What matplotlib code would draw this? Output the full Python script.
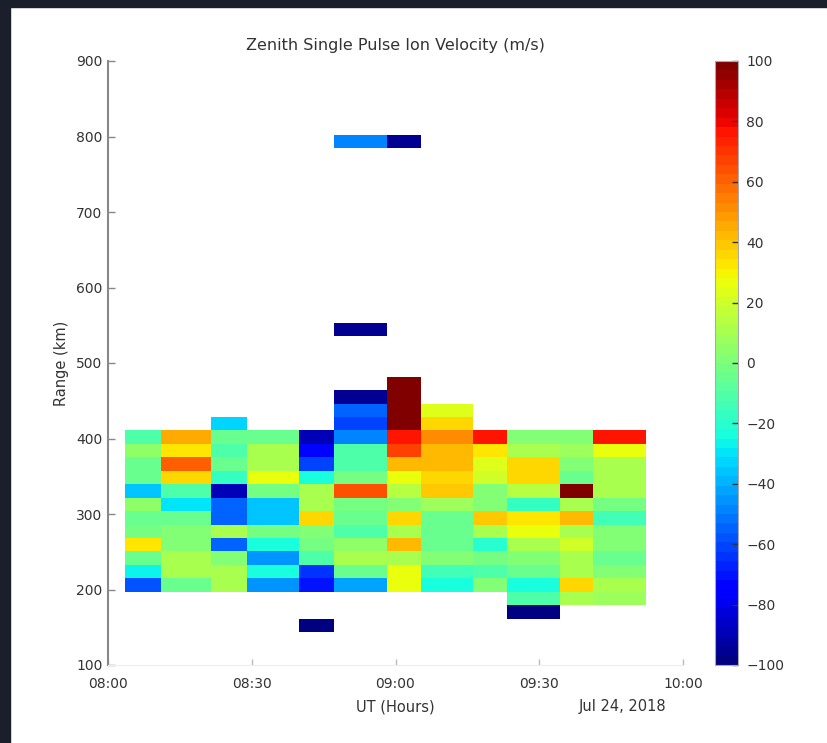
import numpy as np
import matplotlib
matplotlib.use("Agg")
import matplotlib.pyplot as plt
from matplotlib.patches import Rectangle

# time bin edges, minutes after 08:00 UT
time_edges_min = [3.5, 11.1, 21.5, 29.0, 39.9, 47.2, 58.2, 65.3, 76.2, 83.3, 94.3, 101.2, 112.3]
# range gate edges (km), 37 gates
gate_size = 17.8
first_range = 143.6
n_gates = 37

# first gate index of each time column, then velocities from that gate upward (m/s)
first_gate = [3, 3, 3, 3, 3, 3, 3, 3, 3, 1, 2, 2]
col01 = [-58, -27, -6, 32, -2, -4, 6, -35, -6, -6, 5, -12]
col02 = [-4, 10, 10, 0, 0, -6, -30, -10, 37, 60, 32, 45]
col03 = [12, 12, 2, -55, 12, -55, -55, -88, -17, -4, -12, -4, -32]
col04 = [-45, -25, -45, -22, -2, -37, -37, -2, 28, 10, 10, -6]
col05 = [-70, -65, -12, -2, 0, 37, 12, 10, -25, -60, -75, -90]
col06 = [-42, -6, 10, 5, -12, -4, -2, 65, -2, -10, -10, -47, -60, -55, -95]
col07 = [25, 25, 10, 42, 12, 35, 0, 15, 25, 42, 68, 75, 100, 100, 100, 100]
col08 = [-25, -15, 0, -6, -4, -4, 8, 40, 35, 42, 42, 50, 35, 22]
col09 = [0, -10, -2, -20, 12, 40, 2, 0, 20, 24, 32, 75]
col10 = [-98, -12, -23, -4, 0, 12, 27, 32, -17, 15, 35, 37, 10, 0]
col11 = [10, 37, 10, 10, 20, 10, 42, 10, 100, -4, 0, 8, 0]
col12 = [8, 10, 0, -4, 0, 0, -15, -2, 12, 12, 12, 25, 75]
columns = [col01, col02, col03, col04, col05, col06, col07, col08, col09, col10, col11, col12]

# isolated returns
lone_col = [4, 5, 5, 6]
lone_gate = [0, 22, 36, 36]
lone_vel = [-98, -95, -50, -95]

yticks = list(range(100, 901, 100))
xticks = [8.0, 8.5, 9.0, 9.5, 10.0]
xticklabels = ["08:00", "08:30", "09:00", "09:30", "10:00"]
cticks = list(range(-100, 101, 20))

range_edges = first_range + gate_size * np.arange(n_gates + 1)
time_edges = 8 + np.array(time_edges_min) / 60.0

vel = np.full((n_gates, len(columns)), np.nan)
for j, (g0, vals) in enumerate(zip(first_gate, columns)):
    vel[g0:g0 + len(vals), j] = vals
for j, g, v in zip(lone_col, lone_gate, lone_vel):
    vel[g, j] = v

plt.rcParams['font.family'] = 'DejaVu Sans'
txt = '#333333'

fig = plt.figure(figsize=(8.28, 7.43), dpi=100)
fig.patch.set_facecolor('white')

ax = fig.add_axes([108 / 828, 78 / 743, 575 / 828, 604 / 743])
cmap = plt.get_cmap('jet', 64)
mesh = ax.pcolormesh(time_edges, range_edges, np.ma.masked_invalid(vel),
                     cmap=cmap, vmin=-100, vmax=100)
ax.set_xlim(8, 10)
ax.set_ylim(100, 900)
ax.set_yticks(yticks)
ax.set_xticks(xticks)
ax.set_xticklabels(xticklabels)
ax.tick_params(axis='y', direction='in', length=5, width=1, color='#888888',
               labelsize=10, labelcolor=txt, pad=4)
ax.tick_params(axis='x', direction='in', length=4, width=1, color='#bbbbbb',
               labelsize=10, labelcolor=txt, pad=9)
for s in ['top', 'right']:
    ax.spines[s].set_visible(False)
ax.spines['left'].set_color('#888888')
ax.spines['left'].set_linewidth(1.5)
ax.spines['bottom'].set_color('#eeeeee')
ax.set_title("Zenith Single Pulse Ion Velocity (m/s)", fontsize=11.5, color=txt, pad=8)
ax.set_ylabel("Range (km)", fontsize=10.5, color=txt, labelpad=5)
ax.set_xlabel("UT (Hours)", fontsize=10.5, color=txt, labelpad=6)
ax.text(0.895, -0.056, "Jul 24, 2018", transform=ax.transAxes, ha='center', va='top',
        fontsize=10.5, color=txt)

cax = fig.add_axes([715 / 828, 78 / 743, 23 / 828, 604 / 743])
cb = fig.colorbar(mesh, cax=cax)
cb.set_ticks(cticks)
cb.outline.set_edgecolor('#aaaaaa')
cb.outline.set_linewidth(0.8)
cax.tick_params(direction='in', length=4, width=1, color='#333333',
                labelsize=10, labelcolor=txt, pad=6)

# dark frame around the screenshot
fig.patches.append(Rectangle((0, 0), 10 / 828, 1, transform=fig.transFigure,
                             color='#1b1f2b', zorder=10))
fig.patches.append(Rectangle((0, 1 - 7 / 743), 1, 7 / 743, transform=fig.transFigure,
                             color='#1b1f2b', zorder=10))

fig.savefig("out.png", dpi=100)
